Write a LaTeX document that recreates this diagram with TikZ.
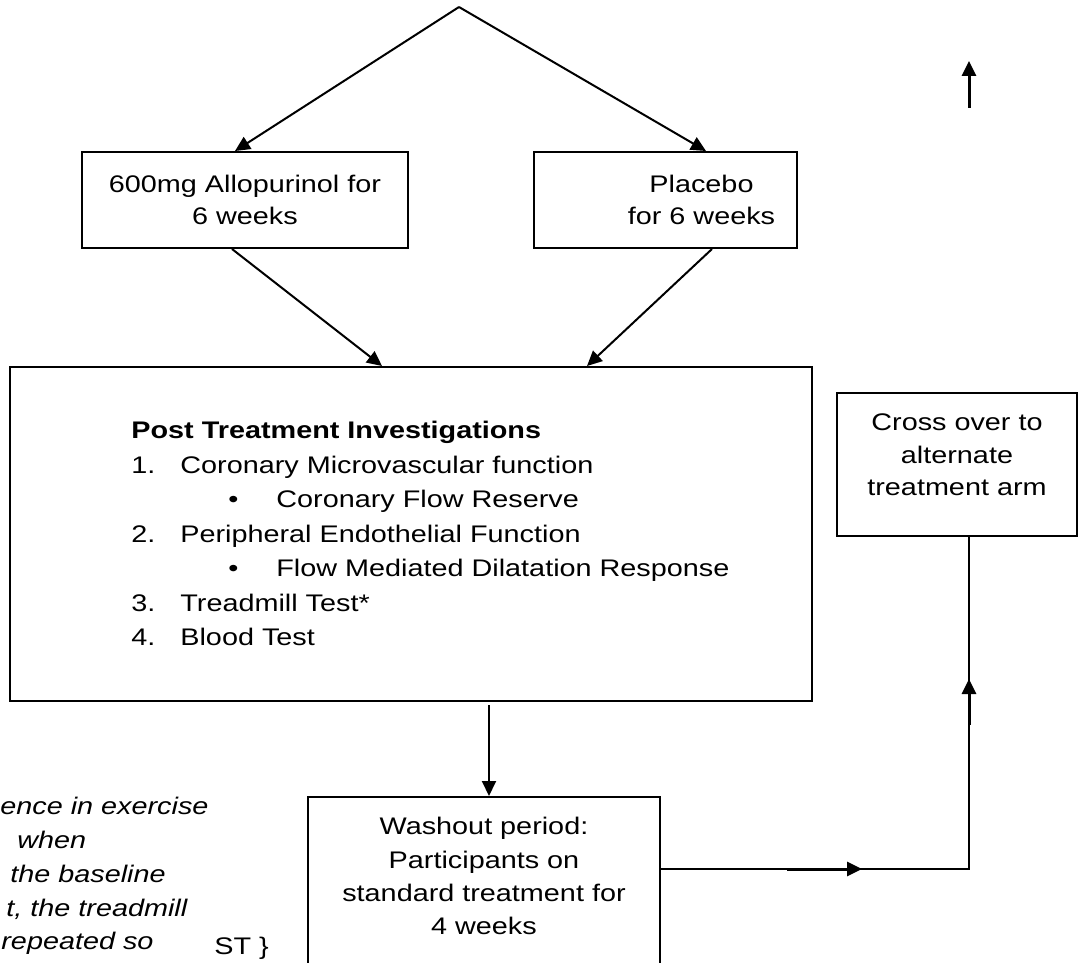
\documentclass[tikz,border=0pt]{standalone}
\usepackage{fontspec}
\setmainfont[FakeStretch=1.2]{Liberation Sans}
\usepackage{tikz}
\usetikzlibrary{arrows.meta,positioning}

\begin{document}
\begin{tikzpicture}[x=0.5pt, y=-0.5pt, font=\fontsize{12}{16}\selectfont,
    box/.style={draw, line width=1pt, align=center, inner sep=0pt},
    arr/.style={-{Triangle[length=7.5pt,width=7pt]}, line width=1pt}]
\useasboundingbox (0,0) rectangle (1078,963);
\clip (0,0) rectangle (1078,963);

% two arms
\coordinate (top) at (459,7);
\node[box, minimum width=163pt, minimum height=48pt] (allo) at (245,200) {600mg Allopurinol for\\ 6 weeks};
\node[box, minimum width=131.5pt, minimum height=48pt] (plac) at (665.5,200)
    {\hspace*{36pt}Placebo\\ \hspace*{36pt}for 6 weeks};

% investigations
\node[box, minimum width=401pt, minimum height=167pt] (post) at (411,534) {};
\node[anchor=north west, inner sep=0pt, align=left, font=\fontsize{12}{17.25}\selectfont] (invest) at (131,421)
    {\textbf{Post Treatment Investigations}\\
     \makebox[24.5pt][l]{1.}Coronary Microvascular function\\
     \hspace*{48.5pt}\makebox[24pt][l]{\textbullet}Coronary Flow Reserve\\
     \makebox[24.5pt][l]{2.}Peripheral Endothelial Function\\
     \hspace*{48.5pt}\makebox[24pt][l]{\textbullet}Flow Mediated Dilatation Response\\
     \makebox[24.5pt][l]{3.}Treadmill Test*\\
     \makebox[24.5pt][l]{4.}Blood Test};

\node[box, minimum width=176pt, minimum height=89pt, text depth=10pt, font=\fontsize{12}{16.6}\selectfont] (wash) at (484,886)
    {Washout period:\\ Participants on\\ standard treatment for\\ 4 weeks};
\node[box, minimum width=120pt, minimum height=71.5pt, text depth=9.5pt, font=\fontsize{12}{16.3}\selectfont] (cross) at (957,464.5)
    {Cross over to\\ alternate\\ treatment arm};

% footnote, cut at the left edge
\node[anchor=north west, inner sep=0pt, align=left, font=\itshape\fontsize{12}{16.9}\selectfont] (note) at (0,797)
    {ence in exercise\\
     \hspace*{8.5pt}when\\
     \hspace*{5pt}the baseline\\
     \hspace*{3pt}t, the treadmill\\
     \hspace*{0.5pt}repeated so};
\node[anchor=west, inner sep=0pt] (cut) at (214,948) {ST \}};

\draw[arr] (top) -- ([xshift=-5pt]allo.north);
\draw[arr] (top) -- ([xshift=20.25pt]plac.north);
\draw[arr] ([xshift=-6.5pt]allo.south) -- ([xshift=-14.5pt]post.north);
\draw[arr] ([xshift=23.25pt]plac.south) -- ([xshift=88pt]post.north);
\draw[arr] ([xshift=39pt,yshift=-1.5pt]post.south) -- ([xshift=2.5pt]wash.north);

% back round to the other arm
\coordinate (turn) at (969,869);
\draw[line width=1pt] (wash.east |- turn) -- (turn) -- (turn |- cross.south);
\coordinate (midA) at (787,869);
\coordinate (midB) at (862,869);
\draw[arr, line width=1.5pt] (midA) -- (midB);
\coordinate (upA) at (969,725);
\coordinate (upB) at (969,679);
\draw[arr, line width=1.5pt] (upA) -- (upB);
\coordinate (loneA) at (969,108);
\coordinate (loneB) at (969,61);
\draw[arr, line width=1.5pt] (loneA) -- (loneB);
\end{tikzpicture}
\end{document}
